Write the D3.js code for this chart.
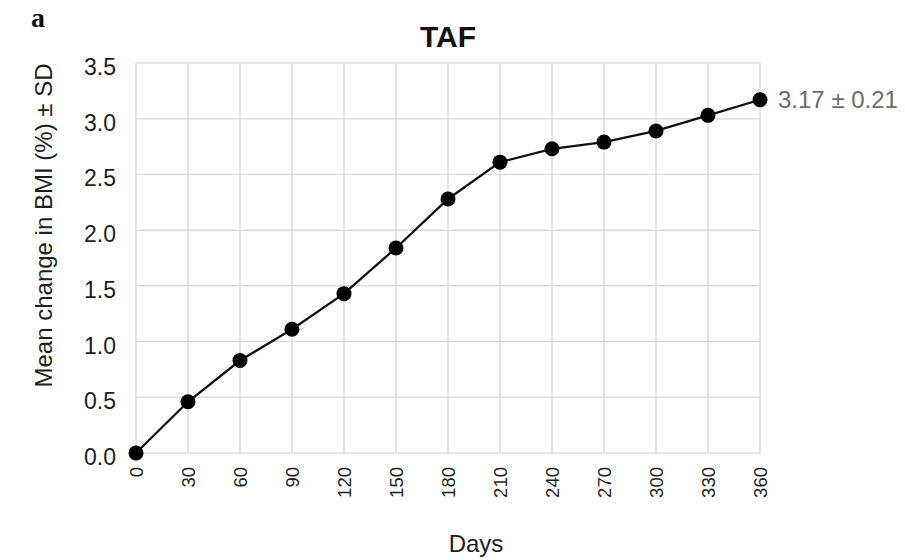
<!DOCTYPE html>
<html>
<head>
<meta charset="utf-8">
<script src="https://cdn.jsdelivr.net/npm/d3@7"></script>
<style>
  body { margin: 0; background: #fff; }
  svg { display: block; font-family: "Liberation Sans", Arial, sans-serif; }
</style>
</head>
<body>
<script>
// data
const days = [0, 30, 60, 90, 120, 150, 180, 210, 240, 270, 300, 330, 360];
const bmiChange = [0, 0.46, 0.83, 1.11, 1.43, 1.84, 2.28, 2.61, 2.73, 2.79, 2.89, 3.03, 3.17];
const yTicks = [0, 0.5, 1.0, 1.5, 2.0, 2.5, 3.0, 3.5];
const endLabel = "3.17 ± 0.21";

const w = 905;
const h = 560;
const margin = {top: 63, right: 145, bottom: 107, left: 136};

const svg = d3.select("body")
  .append("svg")
  .attr("width", w)
  .attr("height", h);

const x = d3.scaleLinear()
  .domain([0, 360])
  .range([margin.left, w - margin.right]);

const y = d3.scaleLinear()
  .domain([0, 3.5])
  .range([h - margin.bottom, margin.top]);

// grid
svg.append("g")
  .selectAll("line")
  .data(days)
  .enter()
  .append("line")
  .attr("x1", (d) => x(d))
  .attr("x2", (d) => x(d))
  .attr("y1", y(0))
  .attr("y2", y(3.5))
  .attr("stroke", "#dcdcdc")
  .attr("stroke-width", 1.5);

svg.append("g")
  .selectAll("line")
  .data(yTicks)
  .enter()
  .append("line")
  .attr("x1", x(0))
  .attr("x2", x(360))
  .attr("y1", (d) => y(d))
  .attr("y2", (d) => y(d))
  .attr("stroke", "#dcdcdc")
  .attr("stroke-width", 1.5);

// y axis
const yAxis = svg.append("g")
  .attr("transform", `translate(${margin.left},0)`)
  .call(d3.axisLeft(y).tickValues(yTicks).tickFormat(d3.format(".1f")).tickSize(0).tickPadding(20));
yAxis.select(".domain").remove();
yAxis.selectAll("text")
  .attr("dy", "0.5em")
  .style("font-size", "23px")
  .style("fill", "#1e1e1e");

// x axis, labels rotated
const xAxis = svg.append("g")
  .attr("transform", `translate(0,${h - margin.bottom})`)
  .call(d3.axisBottom(x).tickValues(days).tickFormat(d3.format("d")).tickSize(0));
xAxis.select(".domain").remove();
xAxis.selectAll("text")
  .attr("transform", "rotate(-90)")
  .attr("text-anchor", "end")
  .attr("x", -14)
  .attr("y", 0)
  .attr("dy", "0.35em")
  .style("font-size", "18.5px")
  .style("fill", "#1e1e1e");

// line and markers
const line = d3.line()
  .x((d, i) => x(days[i]))
  .y((d) => y(d));

svg.append("path")
  .datum(bmiChange)
  .attr("d", line)
  .attr("fill", "none")
  .attr("stroke", "#111")
  .attr("stroke-width", 2.3);

svg.selectAll("circle")
  .data(bmiChange)
  .enter()
  .append("circle")
  .attr("cx", (d, i) => x(days[i]))
  .attr("cy", (d) => y(d))
  .attr("r", 7.5)
  .attr("fill", "#000");

svg.append("text")
  .attr("x", x(360) + 18)
  .attr("y", y(bmiChange[bmiChange.length - 1]))
  .attr("dy", "0.36em")
  .text(endLabel)
  .style("font-size", "24px")
  .style("fill", "#6b6b6b");

// titles
svg.append("text")
  .attr("x", (x(0) + x(360)) / 2)
  .attr("y", 47)
  .attr("text-anchor", "middle")
  .text("TAF")
  .style("font-size", "30px")
  .style("font-weight", "bold")
  .style("fill", "#111");

svg.append("text")
  .attr("x", 31)
  .attr("y", 27)
  .text("a")
  .style("font-family", "'Liberation Serif', 'DejaVu Serif', serif")
  .style("font-size", "28px")
  .style("font-weight", "bold")
  .style("fill", "#111");

svg.append("text")
  .attr("transform", `translate(52,${(58 + 393) / 2}) rotate(-90)`)
  .attr("text-anchor", "middle")
  .text("Mean change in BMI (%) ± SD")
  .style("font-size", "24px")
  .style("fill", "#1e1e1e");

svg.append("text")
  .attr("x", 476)
  .attr("y", 552)
  .attr("text-anchor", "middle")
  .text("Days")
  .style("font-size", "24px")
  .style("fill", "#1e1e1e");
</script>
</body>
</html>
